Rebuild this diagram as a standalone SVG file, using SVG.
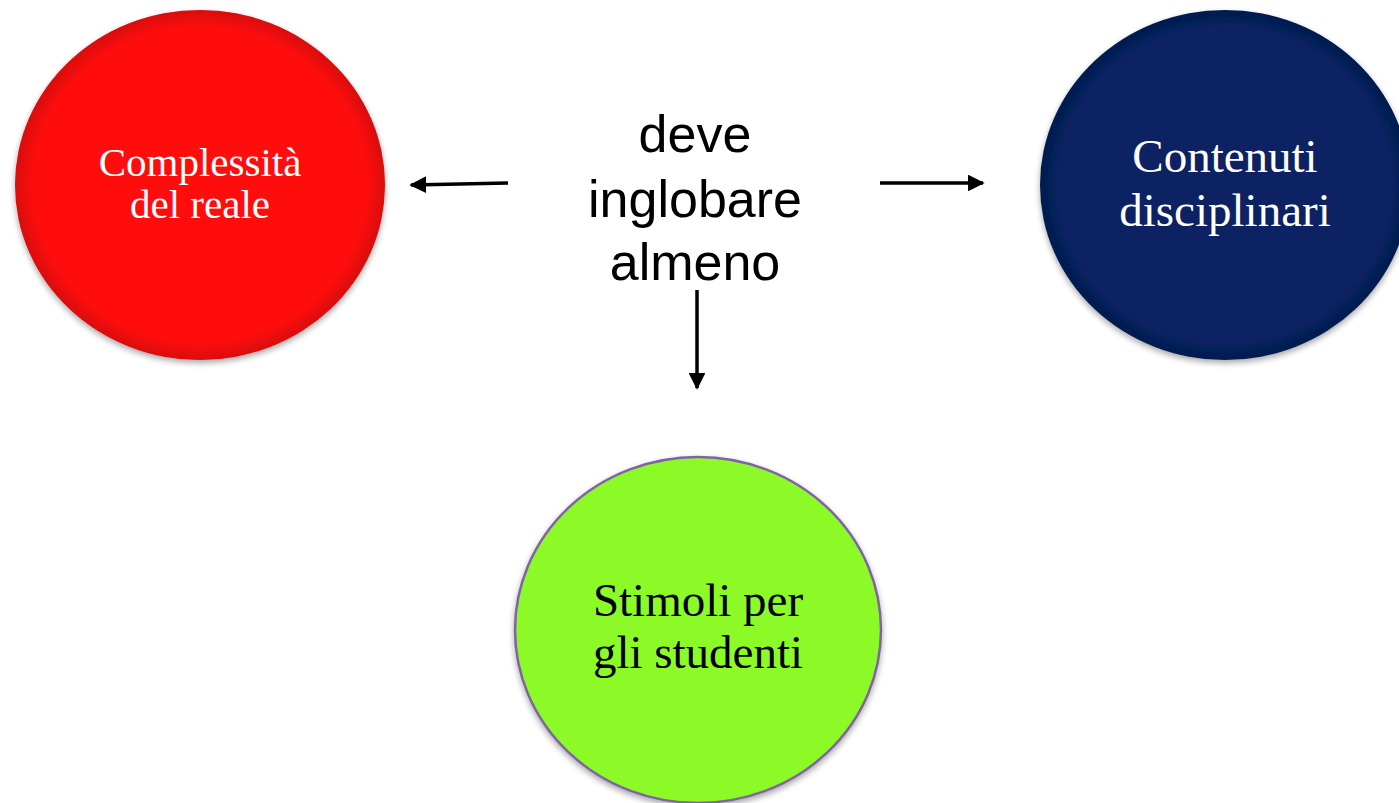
<svg xmlns="http://www.w3.org/2000/svg" width="1399" height="803" viewBox="0 0 1399 803">
<style>
.serif{font-family:"Liberation Serif","DejaVu Serif",serif;text-anchor:middle}
.sans{font-family:"Liberation Sans",Arial,sans-serif;text-anchor:middle;fill:#000}
.conn{stroke:#000;stroke-width:3.5;fill:none;marker-end:url(#ah)}
</style>
<defs>
<marker id="ah" viewBox="0 0 10 10" refX="9" refY="5" markerWidth="4.8" markerHeight="4.8" orient="auto" markerUnits="strokeWidth">
<path d="M0,0 L10,5 L0,10 Z" fill="#000"/>
</marker>
<filter id="sh" x="-10%" y="-10%" width="120%" height="125%">
<feGaussianBlur in="SourceAlpha" stdDeviation="3"/>
<feOffset dx="0" dy="3" result="b"/>
<feComponentTransfer><feFuncA type="linear" slope="0.35"/></feComponentTransfer>
<feMerge><feMergeNode/><feMergeNode in="SourceGraphic"/></feMerge>
</filter>
<radialGradient id="gr" cx="50%" cy="50%" r="50%">
<stop offset="0.9" stop-color="#ff0a0a"/><stop offset="1" stop-color="#d80808"/>
</radialGradient>
<radialGradient id="gb" cx="50%" cy="50%" r="50%">
<stop offset="0.9" stop-color="#072462"/><stop offset="1" stop-color="#051c4e"/>
</radialGradient>
</defs>
<rect width="1399" height="803" fill="#fff"/>
<g id="complessita">
<ellipse cx="200" cy="185" rx="185" ry="175" fill="url(#gr)" filter="url(#sh)"/>
<text class="serif" x="200" y="176" font-size="41" fill="#fff">Complessità</text>
<text class="serif" x="200" y="218" font-size="41" fill="#fff">del reale</text>
</g>
<g id="contenuti">
<ellipse cx="1225" cy="185" rx="185" ry="175" fill="url(#gb)" filter="url(#sh)"/>
<text class="serif" x="1225" y="172" font-size="47" fill="#fff">Contenuti</text>
<text class="serif" x="1225" y="226" font-size="47" fill="#fff">disciplinari</text>
</g>
<g id="stimoli">
<ellipse cx="698" cy="630" rx="183" ry="173" fill="#8cfa25" stroke="#8064a2" stroke-width="2.5" filter="url(#sh)"/>
<text class="serif" x="698" y="616" font-size="47" fill="#000">Stimoli per</text>
<text class="serif" x="698" y="668" font-size="47" fill="#000">gli studenti</text>
</g>
<g id="centro">
<text class="sans" x="695" y="152" font-size="52">deve</text>
<text class="sans" x="695" y="217" font-size="52">inglobare</text>
<text class="sans" x="695" y="280" font-size="52">almeno</text>
</g>
<g id="connectors">
<line class="conn" x1="508" y1="183" x2="411" y2="185"/>
<line class="conn" x1="880" y1="183" x2="983" y2="183"/>
<line class="conn" x1="697" y1="290" x2="697" y2="388"/>
</g>
</svg>
